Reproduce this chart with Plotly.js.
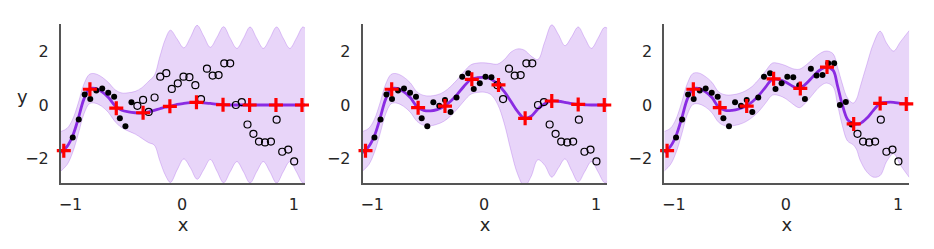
<!DOCTYPE html>
<html><head><meta charset="utf-8">
<script src="https://cdn.plot.ly/plotly-3.0.1.min.js"></script>
<style>html,body{margin:0;padding:0;background:#fff;} #chart{width:934px;height:249px;}</style>
</head><body><div id="chart"></div>
<script>
// observed / held-out data (same dataset in every panel)
const dataX = [-0.98, -0.926, -0.873, -0.823, -0.769, -0.716, -0.662, -0.609, -0.558, -0.508, -0.454, -0.401, -0.35, -0.3, -0.247, -0.196, -0.142, -0.093, -0.039, 0.012, 0.065, 0.118, 0.169, 0.222, 0.273, 0.326, 0.377, 0.43, 0.481, 0.534, 0.585, 0.638, 0.688, 0.742, 0.795, 0.846, 0.896, 0.95, 1.003];
const dataY = [-1.22, -0.54, 0.39, 0.22, 0.54, 0.62, 0.46, 0.31, -0.5, -0.8, 0.1, -0.03, 0.19, -0.26, 0.28, 1.06, 1.19, 0.6, 0.81, 1.06, 1.04, 0.74, 0.22, 1.36, 1.1, 1.12, 1.56, 1.56, 0.0, 0.11, -0.73, -1.08, -1.37, -1.4, -1.37, -0.55, -1.75, -1.67, -2.11];
// number of observed points in each panel
const nObserved = [11, 21, 31];

// inducing points
const inducingX = [-1.06, -0.826, -0.59, -0.35, -0.11, 0.128, 0.366, 0.604, 0.84, 1.073];
const inducingY1 = [-1.71, 0.59, -0.12, -0.29, -0.05, 0.1, 0.01, 0.0, 0.0, 0.0];
const inducingY2 = [-1.71, 0.59, -0.1, -0.04, 0.96, 0.75, -0.5, 0.15, 0.02, 0.0];
const inducingY3 = [-1.71, 0.59, -0.1, -0.04, 0.98, 0.62, 1.42, -0.71, 0.06, 0.04];

// panel 1 posterior
const grid1 = [-1.085, -1.03, -0.98, -0.93, -0.88, -0.83, -0.78, -0.72, -0.66, -0.6, -0.54, -0.48, -0.42, -0.36, -0.3, -0.25, -0.2, -0.15, -0.105, -0.045, 0.015, 0.075, 0.134, 0.193, 0.252, 0.311, 0.371, 0.43, 0.49, 0.549, 0.608, 0.667, 0.727, 0.786, 0.846, 0.905, 0.964, 1.023, 1.08, 1.1];
const mean1 = [-1.78, -1.55, -1.15, -0.5, 0.22, 0.6, 0.62, 0.5, 0.28, -0.03, -0.2, -0.26, -0.29, -0.3, -0.26, -0.2, -0.14, -0.08, -0.05, 0.02, 0.06, 0.09, 0.1, 0.08, 0.06, 0.03, 0.01, 0, 0, 0, 0, 0, 0, 0, 0, 0, 0, 0, 0, 0];
const upper1 = [-0.99, -0.87, -0.53, 0.08, 0.78, 1.15, 1.17, 1.05, 0.84, 0.57, 0.45, 0.46, 0.51, 0.65, 0.89, 1.1, 1.81, 2.47, 2.8, 2.47, 2.14, 2.54, 2.98, 2.58, 2.16, 2.53, 2.93, 2.5, 2.12, 2.5, 2.92, 2.5, 2.12, 2.5, 2.92, 2.5, 2.12, 2.5, 2.92, 2.88];
const lower1 = [-2.47, -2.23, -1.77, -1.08, -0.34, 0.05, 0.07, -0.05, -0.28, -0.63, -0.85, -0.98, -1.09, -1.25, -1.41, -1.5, -2.09, -2.63, -2.9, -2.43, -2.02, -2.36, -2.78, -2.42, -2.04, -2.47, -2.91, -2.5, -2.12, -2.5, -2.92, -2.5, -2.12, -2.5, -2.92, -2.5, -2.12, -2.5, -2.92, -2.88];

// panel 2 posterior
const grid2 = [-1.085, -1.03, -0.98, -0.93, -0.88, -0.83, -0.78, -0.72, -0.66, -0.6, -0.54, -0.48, -0.42, -0.36, -0.3, -0.24, -0.18, -0.12, -0.06, 0.0, 0.06, 0.12, 0.18, 0.24, 0.3, 0.36, 0.42, 0.48, 0.54, 0.604, 0.663, 0.722, 0.781, 0.84, 0.899, 0.958, 1.017, 1.073, 1.1];
const mean2 = [-1.78, -1.55, -1.15, -0.5, 0.22, 0.6, 0.62, 0.5, 0.28, -0.06, -0.2, -0.22, -0.17, -0.06, 0.14, 0.4, 0.7, 0.95, 1.02, 1.03, 0.97, 0.78, 0.5, 0.13, -0.25, -0.5, -0.42, -0.15, 0.05, 0.15, 0.14, 0.1, 0.05, 0.02, 0.01, 0, 0, 0, 0];
const upper2 = [-0.99, -0.87, -0.53, 0.08, 0.78, 1.15, 1.17, 1.05, 0.83, 0.49, 0.36, 0.34, 0.38, 0.49, 0.69, 0.95, 1.25, 1.5, 1.57, 1.58, 1.55, 1.53, 1.7, 1.98, 2.1, 2.05, 1.83, 1.7, 2.35, 3.0, 2.64, 2.22, 2.55, 2.92, 2.51, 2.12, 2.5, 2.9, 2.88];
const lower2 = [-2.47, -2.23, -1.77, -1.08, -0.34, 0.05, 0.07, -0.05, -0.27, -0.61, -0.76, -0.78, -0.72, -0.61, -0.41, -0.15, 0.15, 0.4, 0.47, 0.48, 0.39, 0.03, -0.7, -1.72, -2.6, -3.05, -2.67, -2.05, -2.25, -2.7, -2.36, -2.02, -2.45, -2.88, -2.49, -2.12, -2.5, -2.9, -2.88];

// panel 3 posterior
const grid3 = [-1.085, -1.03, -0.98, -0.93, -0.88, -0.83, -0.78, -0.72, -0.66, -0.6, -0.54, -0.48, -0.42, -0.36, -0.3, -0.24, -0.18, -0.12, -0.06, 0.0, 0.06, 0.12, 0.18, 0.24, 0.3, 0.36, 0.42, 0.46, 0.5, 0.55, 0.6, 0.63, 0.66, 0.72, 0.78, 0.84, 0.9, 0.96, 1.02, 1.1];
const mean3 = [-1.78, -1.55, -1.15, -0.5, 0.22, 0.6, 0.62, 0.5, 0.28, -0.08, -0.2, -0.2, -0.15, -0.05, 0.12, 0.37, 0.68, 0.97, 0.95, 0.85, 0.7, 0.62, 0.8, 1.06, 1.3, 1.42, 1.3, 0.72, 0.05, -0.55, -0.71, -0.72, -0.7, -0.5, -0.2, 0.06, 0.1, 0.1, 0.06, 0.04];
const upper3 = [-0.99, -0.87, -0.52, 0.1, 0.8, 1.18, 1.2, 1.07, 0.85, 0.49, 0.38, 0.38, 0.43, 0.53, 0.7, 0.97, 1.28, 1.57, 1.55, 1.47, 1.36, 1.34, 1.5, 1.72, 1.92, 2.02, 1.92, 1.42, 0.83, 0.25, 0.07, 0.23, 0.65, 1.5, 2.3, 2.76, 2.3, 2.02, 2.36, 2.79];
const lower3 = [-2.47, -2.23, -1.78, -1.1, -0.36, 0.02, 0.04, -0.07, -0.29, -0.65, -0.78, -0.78, -0.73, -0.63, -0.46, -0.23, 0.08, 0.37, 0.35, 0.23, 0.04, -0.1, 0.1, 0.4, 0.68, 0.82, 0.68, 0.02, -0.73, -1.35, -1.49, -1.67, -2.05, -2.5, -2.7, -2.64, -2.1, -1.82, -2.24, -2.71];

const xTicks = [-1, 0, 1];
const yTicks = [-2, 0, 2];

const panels = [
  {grid: grid1, mean: mean1, upper: upper1, lower: lower1, ind: inducingY1, n: nObserved[0]},
  {grid: grid2, mean: mean2, upper: upper2, lower: lower2, ind: inducingY2, n: nObserved[1]},
  {grid: grid3, mean: mean3, upper: upper3, lower: lower3, ind: inducingY3, n: nObserved[2]}
];

const purple = 'rgb(138,43,226)';
const traces = [];
panels.forEach((p, i) => {
  const xa = i === 0 ? 'x' : 'x' + (i + 1);
  const ya = i === 0 ? 'y' : 'y' + (i + 1);
  traces.push({type: 'scatter', mode: 'lines', x: p.grid, y: p.lower, xaxis: xa, yaxis: ya,
    line: {color: 'rgba(138,43,226,0.24)', width: 1, shape: 'spline'}, showlegend: false, hoverinfo: 'skip'});
  traces.push({type: 'scatter', mode: 'lines', x: p.grid, y: p.upper, xaxis: xa, yaxis: ya,
    fill: 'tonexty', fillcolor: 'rgba(138,43,226,0.2)',
    line: {color: 'rgba(138,43,226,0.24)', width: 1, shape: 'spline'}, showlegend: false, hoverinfo: 'skip'});
  traces.push({type: 'scatter', mode: 'lines', x: p.grid, y: p.mean, xaxis: xa, yaxis: ya,
    line: {color: purple, width: 2.8, shape: 'spline'}, showlegend: false});
  traces.push({type: 'scatter', mode: 'markers', x: dataX.slice(0, p.n), y: dataY.slice(0, p.n), xaxis: xa, yaxis: ya,
    marker: {color: 'black', size: 6}, showlegend: false, cliponaxis: false});
  traces.push({type: 'scatter', mode: 'markers', x: dataX.slice(p.n), y: dataY.slice(p.n), xaxis: xa, yaxis: ya,
    marker: {symbol: 'circle-open', color: 'black', size: 7, line: {width: 1.2, color: 'black'}}, showlegend: false, cliponaxis: false});
  traces.push({type: 'scatter', mode: 'markers', x: inducingX, y: p.ind, xaxis: xa, yaxis: ya,
    marker: {symbol: 'cross-thin', size: 10, color: 'red', line: {width: 3.2, color: 'red'}}, showlegend: false, cliponaxis: false});
});

const tickFont = {family: 'DejaVu Sans', size: 16, color: '#262626'};
function xAxis(domain, anchor) {
  return {domain: domain, anchor: anchor, range: [-1.085, 1.1], tickvals: xTicks, ticks: '', showgrid: false, zeroline: false,
    showline: true, linecolor: '#555555', linewidth: 2, tickfont: tickFont, ticklabelstandoff: 6, automargin: false,
    title: {text: 'x', font: {family: 'DejaVu Sans', size: 18, color: '#262626'}, standoff: 2}};
}
function yAxis(anchor) {
  return {domain: [0.2639, 0.9024], anchor: anchor, range: [-2.93, 3.02], tickvals: yTicks, ticks: '', showgrid: false, zeroline: false,
    showline: true, linecolor: '#555555', linewidth: 2, tickfont: tickFont, ticklabelstandoff: 7, automargin: false};
}

const layout = {
  width: 934, height: 249, margin: {l: 0, r: 0, t: 0, b: 0},
  paper_bgcolor: 'white', plot_bgcolor: 'white', showlegend: false,
  xaxis: xAxis([0.06531, 0.32655], 'y'),
  xaxis2: xAxis([0.38833, 0.65021], 'y2'),
  xaxis3: xAxis([0.71124, 0.97355], 'y3'),
  yaxis: yAxis('x'), yaxis2: yAxis('x2'), yaxis3: yAxis('x3'),
  annotations: [{text: 'y', xref: 'paper', yref: 'paper', x: 22 / 934, y: 1 - 96 / 249, xanchor: 'center', yanchor: 'middle',
    showarrow: false, font: {family: 'DejaVu Sans', size: 18, color: '#262626'}}]
};

Plotly.newPlot('chart', traces, layout, {displayModeBar: false, staticPlot: true});
</script></body></html>
